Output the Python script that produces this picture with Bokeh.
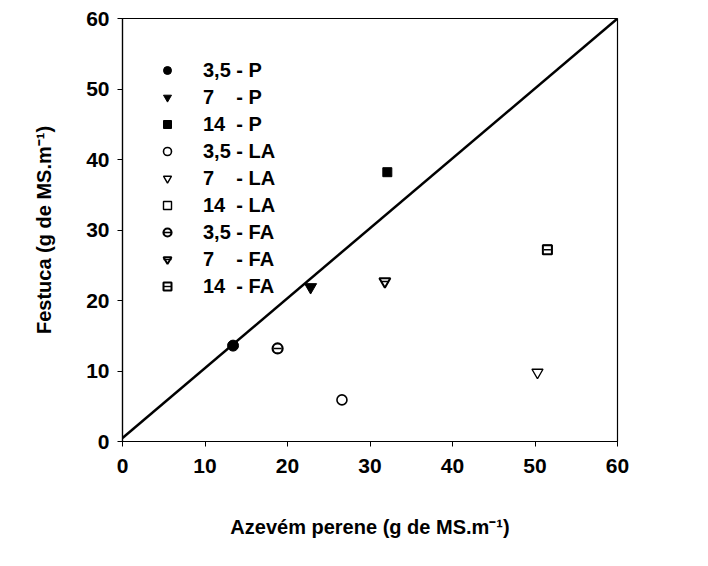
from bokeh.plotting import figure
from bokeh.models import Legend, LegendItem, FixedTicker
from bokeh.embed import file_html
from bokeh.resources import INLINE

# ---- data (g de MS.m-1) ----
p35_x = [13.4]; p35_y = [13.6]
p7_x = [22.8];  p7_y = [21.9]
p14_x = [32.1]; p14_y = [38.2]
la35_x = [26.6]; la35_y = [5.9]
la7_x = [50.3];  la7_y = [9.8]
la14_x = [51.5]; la14_y = [27.2]
fa35_x = [18.8]; fa35_y = [13.2]
fa7_x = [31.8];  fa7_y = [22.7]
fa14_x = [51.5]; fa14_y = [27.2]
line_x = [0, 60]
line_y = [0.5, 60]
ticks = [0, 10, 20, 30, 40, 50, 60]

labels = ["3,5 - P", "7\u2007\u2008 - P", "14\u2008 - P",
          "3,5 - LA", "7\u2007\u2008 - LA", "14\u2008 - LA",
          "3,5 - FA", "7\u2007\u2008 - FA", "14\u2008 - FA"]

FONT = "Liberation Sans"

p = figure(width=692, height=550, x_range=(0, 60), y_range=(0, 60),
           output_backend="svg", toolbar_location=None,
           min_border_left=122, min_border_right=75,
           min_border_top=18, min_border_bottom=109)
p.grid.visible = False
p.outline_line_color = "black"
p.outline_line_width = 1.2
p.background_fill_color = "white"
p.border_fill_color = "white"

for ax in (p.xaxis[0], p.yaxis[0]):
    ax.ticker = FixedTicker(ticks=ticks)
    ax.minor_tick_line_color = None
    ax.major_tick_in = 0
    ax.major_tick_out = 5
    ax.axis_line_color = "black"
    ax.axis_line_width = 1.2
    ax.major_tick_line_color = "black"
    ax.major_label_text_font = FONT
    ax.major_label_text_font_style = "bold"
    ax.major_label_text_font_size = "21px"
    ax.major_label_text_color = "black"
    ax.axis_label_text_font = FONT
    ax.axis_label_text_font_style = "bold"
    ax.axis_label_text_font_size = "20px"
    ax.axis_label_text_color = "black"

p.xaxis.axis_label = "Azevém perene (g de MS.m\u207b\u00b9)"
p.yaxis.axis_label = "Festuca (g de MS.m\u207b\u00b9)"
p.xaxis.major_label_standoff = 12
p.yaxis.major_label_standoff = 8
p.xaxis.axis_label_standoff = 40
p.yaxis.axis_label_standoff = 28

p.line(line_x, line_y, line_color="black", line_width=2.5)

rs = []
rs.append([p.scatter(p35_x, p35_y, marker="circle", size=11, fill_color="black", line_color="black")])
rs.append([p.scatter(p7_x, p7_y, marker="inverted_triangle", size=12, fill_color="black", line_color="black")])
rs.append([p.scatter(p14_x, p14_y, marker="square", size=9, fill_color="black", line_color="black")])
rs.append([p.scatter(la35_x, la35_y, marker="circle", size=10, fill_color="white", line_color="black", line_width=1.6)])
rs.append([p.scatter(la7_x, la7_y, marker="inverted_triangle", size=11, fill_color="white", line_color="black", line_width=1.4)])
rs.append([p.scatter(la14_x, la14_y, marker="square", size=9, fill_color="white", line_color="black", line_width=1.4)])
rs.append([p.scatter(fa35_x, fa35_y, marker="circle", size=10, fill_color="white", line_color="black", line_width=2.2),
           p.scatter(fa35_x, fa35_y, marker="dash", size=8, line_color="black", line_width=1.6)])
rs.append([p.scatter(fa7_x, fa7_y, marker="inverted_triangle", size=11, fill_color="white", line_color="black", line_width=2.0),
           p.scatter(fa7_x, fa7_y, marker="dash", size=7, line_color="black", line_width=1.4)])
rs.append([p.scatter(fa14_x, fa14_y, marker="square", size=9, fill_color="white", line_color="black", line_width=2.0),
           p.scatter(fa14_x, fa14_y, marker="dash", size=7, line_color="black", line_width=1.4)])

items = [LegendItem(label=lab, renderers=r) for lab, r in zip(labels, rs)]
legend = Legend(items=items, location=(35, 143), border_line_color=None,
                background_fill_alpha=0, padding=0, margin=0,
                glyph_width=20, glyph_height=24, label_height=24, spacing=3,
                label_standoff=26, label_text_font=FONT,
                label_text_font_style="bold", label_text_font_size="20px",
                label_text_color="black")
p.add_layout(legend, "center")

open("out.html", "w").write(file_html(p, INLINE))
